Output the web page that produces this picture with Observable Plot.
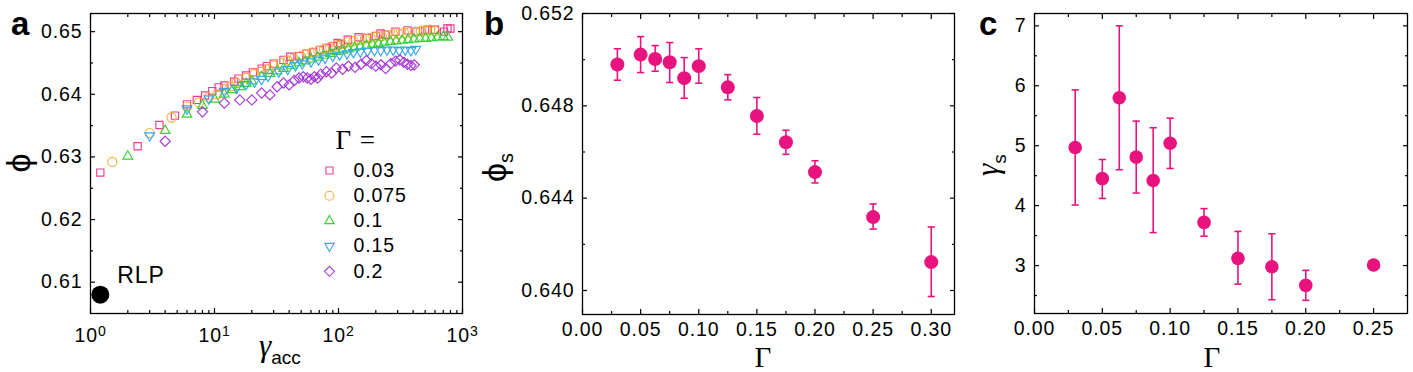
<!DOCTYPE html>
<html><head><meta charset="utf-8">
<script src="https://cdn.jsdelivr.net/npm/d3@7"></script>
<script src="https://cdn.jsdelivr.net/npm/@observablehq/plot@0.6"></script>
<style>
body{margin:0;background:#fff;}
#wrap{position:relative;width:1413px;height:372px;overflow:hidden;background:#fff;}
.panel{position:absolute;top:0;}
#overlay{position:absolute;left:0;top:0;pointer-events:none;}
</style>
</head><body>
<div id="wrap">
  <div id="pa" class="panel" style="left:0px"></div>
  <div id="pb" class="panel" style="left:470px"></div>
  <div id="pc" class="panel" style="left:960px"></div>
</div>
<script>
// ---------------- DATA ----------------
// Panel a: packing fraction phi vs accumulated strain gamma_acc, for each Gamma
const gammaLabels = ["0.03", "0.075", "0.1", "0.15", "0.2"];

const acc003 = [1.2, 2.4, 3.6, 4.8, 6, 7.2, 8.4, 9.6, 10.8, 12, 14.4, 15.6, 18, 20.4, 24, 26.4, 30, 36, 40.8, 48, 55.2, 62.4, 70.8, 80.4, 90, 98.4, 104.4, 118.8, 145.2, 170.4, 200.4, 218.4, 240, 288, 360, 420, 499.2, 522, 600, 710.4, 756, 799.2];
const phi003 = [0.6275, 0.6317, 0.6351, 0.6366, 0.6384, 0.6391, 0.6398, 0.6405, 0.6411, 0.6414, 0.6420, 0.6425, 0.6430, 0.6435, 0.6441, 0.6445, 0.6449, 0.6455, 0.6460, 0.6461, 0.6465, 0.6467, 0.6471, 0.6474, 0.6477, 0.6482, 0.6480, 0.6487, 0.6491, 0.6490, 0.6493, 0.6497, 0.6495, 0.6500, 0.6502, 0.6500, 0.6502, 0.6503, 0.6503, 0.6500, 0.6505, 0.6505];

const acc0075 = [1.5, 3, 4.5, 6, 7.5, 9, 10.5, 12, 13.5, 15, 18, 21, 24, 27, 30, 34.5, 39, 43.5, 49.5, 55.5, 61.5, 69, 76.5, 85.5, 96, 106.5, 118.5, 132, 147, 163.5, 181.5, 201, 223.5, 247.5, 274.5, 304.5, 337.5, 375, 415.5, 460.5, 510, 549, 600];
const phi0075 = [0.6292, 0.6338, 0.6363, 0.6380, 0.6387, 0.6395, 0.6400, 0.6408, 0.6413, 0.6418, 0.6426, 0.6432, 0.6436, 0.6440, 0.6446, 0.6450, 0.6454, 0.6457, 0.6461, 0.6464, 0.6467, 0.6469, 0.6472, 0.6475, 0.6478, 0.6480, 0.6483, 0.6485, 0.6487, 0.6489, 0.6490, 0.6492, 0.6493, 0.6494, 0.6496, 0.6497, 0.6498, 0.6499, 0.6500, 0.6501, 0.6502, 0.6503, 0.6501];

const acc01 = [2, 4, 6, 8, 10, 12, 14, 16, 18, 20, 24, 28, 32, 36, 42, 48, 54, 60, 68, 76, 86, 96, 108, 120, 134, 150, 168, 188, 210, 234, 262, 292, 326, 364, 406, 452, 504, 562, 626, 700, 760];
const phi01 = [0.6301, 0.6342, 0.6368, 0.6382, 0.6392, 0.6400, 0.6407, 0.6412, 0.6417, 0.6421, 0.6428, 0.6433, 0.6437, 0.6441, 0.6446, 0.6450, 0.6453, 0.6456, 0.6459, 0.6462, 0.6465, 0.6468, 0.6470, 0.6472, 0.6474, 0.6476, 0.6478, 0.6480, 0.6481, 0.6483, 0.6484, 0.6485, 0.6486, 0.6487, 0.6488, 0.6489, 0.6489, 0.6490, 0.6491, 0.6492, 0.6491];

const acc015 = [3, 6, 9, 12, 15, 18, 21, 24, 27, 33, 39, 45, 51, 60, 69, 78, 90, 102, 117, 132, 150, 171, 195, 219, 246, 276, 309, 345, 384, 420];
const phi015 = [0.6334, 0.6377, 0.6393, 0.6405, 0.6410, 0.6416, 0.6420, 0.6424, 0.6429, 0.6436, 0.6440, 0.6446, 0.6449, 0.6452, 0.6455, 0.6458, 0.6461, 0.6463, 0.6465, 0.6467, 0.6468, 0.6469, 0.6470, 0.6470, 0.6471, 0.6471, 0.6470, 0.6471, 0.6470, 0.6472];

const acc02 = [4, 8, 12, 16, 20, 24, 28, 32, 36, 40, 44, 48, 52, 56, 60, 64, 68, 72, 80, 88, 96, 108, 120, 136, 152, 168, 184, 200, 220, 240, 264, 288, 312, 336, 360, 384, 408];
const phi02 = [0.6325, 0.6372, 0.6386, 0.6391, 0.6391, 0.6402, 0.6399, 0.6412, 0.6418, 0.6415, 0.6422, 0.6426, 0.6428, 0.6426, 0.6424, 0.6428, 0.6426, 0.6432, 0.6436, 0.6434, 0.6442, 0.6440, 0.6445, 0.6443, 0.6448, 0.6454, 0.6449, 0.6445, 0.6447, 0.6441, 0.6449, 0.6453, 0.6455, 0.6451, 0.6448, 0.6446, 0.6447];

const rlpAcc = [1.2];
const rlpPhi = [0.608];

const aYTicks = [0.61, 0.62, 0.63, 0.64, 0.65];
const aYMinor = [0.615, 0.625, 0.635, 0.645];
const aXTicks = [1, 10, 100, 1000];
const aXMinor = [2, 3, 4, 5, 6, 7, 8, 9, 20, 30, 40, 50, 60, 70, 80, 90, 200, 300, 400, 500, 600, 700, 800, 900];

// Panel b: steady-state phi_s vs Gamma
const bGamma = [0.03, 0.05, 0.0625, 0.075, 0.0875, 0.1, 0.125, 0.15, 0.175, 0.2, 0.25, 0.3];
const bPhiS  = [0.64979, 0.65022, 0.65003, 0.64989, 0.64920, 0.64972, 0.64880, 0.64756, 0.64642, 0.64513, 0.64318, 0.64123];
const bLo    = [0.64911, 0.64944, 0.64950, 0.64901, 0.64833, 0.64898, 0.64826, 0.64677, 0.64590, 0.64466, 0.64266, 0.63974];
const bHi    = [0.65047, 0.65100, 0.65061, 0.65074, 0.65009, 0.65047, 0.64935, 0.64836, 0.64694, 0.64562, 0.64375, 0.64275];
const bYTicks = [0.640, 0.644, 0.648, 0.652];
const bYMinor = [0.642, 0.646, 0.650];
const bXTicks = [0, 0.05, 0.10, 0.15, 0.20, 0.25, 0.30];
const bXMinor = [0.025, 0.075, 0.125, 0.175, 0.225, 0.275];

// Panel c: gamma_s vs Gamma
const cGamma  = [0.03, 0.05, 0.0625, 0.075, 0.0875, 0.1, 0.125, 0.15, 0.175, 0.2, 0.25];
const cGammaS = [4.97, 4.45, 5.80, 4.81, 4.42, 5.04, 3.72, 3.12, 2.98, 2.67, 3.01];
const cLo     = [4.01, 4.12, 4.60, 4.21, 3.55, 4.62, 3.49, 2.69, 2.43, 2.42, null];
const cHi     = [5.93, 4.77, 7.00, 5.41, 5.30, 5.46, 3.95, 3.57, 3.53, 2.92, null];
const cYTicks = [3, 4, 5, 6, 7];
const cYMinor = [2.5, 3.5, 4.5, 5.5, 6.5];
const cXTicks = [0, 0.05, 0.10, 0.15, 0.20, 0.25];
const cXMinor = [0.025, 0.075, 0.125, 0.175, 0.225];

// ---------------- STYLE ----------------
const FONT = "'Liberation Sans', Arial, sans-serif";
const SERIF = "'Liberation Serif', 'Times New Roman', serif";
const MAGENTA = "#e8137f";
const seriesStyle = [
  {color: "#ee3d8f", sym: "square2"},
  {color: "#f2b035", sym: "circle"},
  {color: "#33d433", sym: "triangle2"},
  {color: "#35a8f0", sym: "triDown"},
  {color: "#a63ad6", sym: "diamond2"}
];
const triDown = {draw(ctx, size) {
  const s = Math.sqrt(size) * 0.6824, t = s / 2, u = s * Math.sqrt(3) / 2;
  ctx.moveTo(0, s); ctx.lineTo(u, -t); ctx.lineTo(-u, -t); ctx.closePath();
}};
const capSym = {draw(ctx, size) {
  const w = Math.sqrt(size / Math.PI);
  ctx.moveTo(-w, 0); ctx.lineTo(w, 0);
}};
function sym(name) { return name === "triDown" ? triDown : name; }

const baseStyle = {fontFamily: FONT, fontSize: "19.5px", letterSpacing: "0.9px", color: "#000", background: "transparent", overflow: "visible"};

function frameAxes({xMajor, xMinor, yMajor, yMinor, xFmt, yFmt, xPad = 8}) {
  const blank = () => "";
  return [
    Plot.axisX({anchor: "bottom", ticks: xMajor, tickSize: 0, tickPadding: xPad, tickFormat: xFmt, label: null}),
    Plot.axisY({anchor: "left", ticks: yMajor, tickSize: 0, tickPadding: 8, tickFormat: yFmt, label: null}),
    ...["bottom", "top"].flatMap(a => [
      Plot.axisX({anchor: a, ticks: xMajor, tickSize: -5, tickFormat: blank, label: null, strokeWidth: 1.2}),
      Plot.axisX({anchor: a, ticks: xMinor, tickSize: -3, tickFormat: blank, label: null, strokeWidth: 1.2})
    ]),
    ...["left", "right"].flatMap(a => [
      Plot.axisY({anchor: a, ticks: yMajor, tickSize: -5, tickFormat: blank, label: null, strokeWidth: 1.2}),
      Plot.axisY({anchor: a, ticks: yMinor, tickSize: -3, tickFormat: blank, label: null, strokeWidth: 1.2})
    ]),
    Plot.frame({stroke: "#000", strokeWidth: 1.3})
  ];
}

// ---------------- PANEL A ----------------
const aSeries = [
  [acc003, phi003], [acc0075, phi0075], [acc01, phi01], [acc015, phi015], [acc02, phi02]
].map(([xs, ys], i) => xs.map((x, j) => ({acc: x, phi: ys[j], g: gammaLabels[i]})));
const rlp = rlpAcc.map((x, i) => ({acc: x, phi: rlpPhi[i]}));

const legendMarks = gammaLabels.flatMap((lab, i) => [
  Plot.dot([lab], {frameAnchor: "top-left", dx: 239, dy: 157 + i * 25.2, r: 4.5, symbol: sym(seriesStyle[i].sym), stroke: seriesStyle[i].color, fill: "none", strokeWidth: 1.1}),
  Plot.text([lab], {frameAnchor: "top-left", dx: 263, dy: 157 + i * 25.2, text: d => d, textAnchor: "start", lineAnchor: "middle", fontSize: 19.5})
]);

const plotA = Plot.plot({
  width: 470, height: 372,
  marginLeft: 90, marginRight: 8, marginTop: 13, marginBottom: 59,
  x: {type: "log", domain: [1, 1000]},
  y: {domain: [0.6050, 0.6529]},
  style: baseStyle,
  marks: [
    ...frameAxes({xMajor: aXTicks, xMinor: aXMinor, yMajor: aYTicks, yMinor: aYMinor,
      xFmt: d => "10^" + Math.round(Math.log10(d)), yFmt: d3.format(".2f"), xPad: 15}),
    ...aSeries.map((s, i) => Plot.dot(s, {x: "acc", y: "phi", r: 4.6, symbol: sym(seriesStyle[i].sym), stroke: seriesStyle[i].color, fill: "none", strokeWidth: 1.15})),
    Plot.dot(rlp, {x: "acc", y: "phi", r: 9, fill: "#000"}),
    Plot.text(rlp, {x: "acc", y: "phi", text: () => "RLP", dx: 17, dy: -19, textAnchor: "start", lineAnchor: "middle", fontSize: 23}),
    Plot.text(["Γ ="], {frameAnchor: "top-left", dx: 245, dy: 127, text: d => d, textAnchor: "start", lineAnchor: "middle", fontFamily: SERIF, fontSize: 27, letterSpacing: "1px"}),
    ...legendMarks
  ]
});
// superscript exponents on the log axis labels
d3.select(plotA).selectAll("text").each(function() {
  const m = /^10\^(\d)$/.exec(this.textContent);
  if (m) {
    const t = d3.select(this);
    t.text("10");
    t.append("tspan").attr("dy", "-0.45em").attr("font-size", "14px").text(m[1]);
  }
});
document.getElementById("pa").append(plotA);

// ---------------- PANEL B ----------------
const bData = bGamma.map((g, i) => ({g, v: bPhiS[i], lo: bLo[i], hi: bHi[i]}));
const plotB = Plot.plot({
  width: 490, height: 372,
  marginLeft: 112, marginRight: 6, marginTop: 13, marginBottom: 58,
  x: {domain: [0, 0.32]},
  y: {domain: [0.63896, 0.652]},
  style: baseStyle,
  marks: [
    ...frameAxes({xMajor: bXTicks, xMinor: bXMinor, yMajor: bYTicks, yMinor: bYMinor,
      xFmt: d3.format(".2f"), yFmt: d3.format(".3f")}),
    Plot.ruleX(bData, {x: "g", y1: "lo", y2: "hi", stroke: MAGENTA, strokeWidth: 1.6}),
    Plot.dot(bData, {x: "g", y: "lo", r: 3.6, symbol: capSym, stroke: MAGENTA, fill: "none", strokeWidth: 1.6}),
    Plot.dot(bData, {x: "g", y: "hi", r: 3.6, symbol: capSym, stroke: MAGENTA, fill: "none", strokeWidth: 1.6}),
    Plot.dot(bData, {x: "g", y: "v", r: 7, fill: MAGENTA, stroke: "none"})
  ]
});
document.getElementById("pb").append(plotB);

// ---------------- PANEL C ----------------
const cData = cGamma.map((g, i) => ({g, v: cGammaS[i], lo: cLo[i], hi: cHi[i]}));
const cErr = cData.filter(d => d.lo != null);
const plotC = Plot.plot({
  width: 453, height: 372,
  marginLeft: 74, marginRight: 6, marginTop: 13, marginBottom: 59,
  x: {domain: [0, 0.275]},
  y: {domain: [2.2, 7.206]},
  style: baseStyle,
  marks: [
    ...frameAxes({xMajor: cXTicks, xMinor: cXMinor, yMajor: cYTicks, yMinor: cYMinor,
      xFmt: d3.format(".2f"), yFmt: d3.format("d")}),
    Plot.ruleX(cErr, {x: "g", y1: "lo", y2: "hi", stroke: MAGENTA, strokeWidth: 1.6}),
    Plot.dot(cErr, {x: "g", y: "lo", r: 3.6, symbol: capSym, stroke: MAGENTA, fill: "none", strokeWidth: 1.6}),
    Plot.dot(cErr, {x: "g", y: "hi", r: 3.6, symbol: capSym, stroke: MAGENTA, fill: "none", strokeWidth: 1.6}),
    Plot.dot(cData, {x: "g", y: "v", r: 6.8, fill: MAGENTA, stroke: "none"})
  ]
});
document.getElementById("pc").append(plotC);

// ---------------- TITLES / PANEL LETTERS ----------------
const ov = d3.select("#wrap").append("svg").attr("id", "overlay")
  .attr("width", 1413).attr("height", 372).style("font-family", FONT);

[["a", 11, 35], ["b", 484, 35], ["c", 979, 35]].forEach(([t, x, y]) =>
  ov.append("text").attr("x", x).attr("y", y).attr("font-size", 33).attr("font-weight", "bold").text(t));

// panel a y title: phi (rotated)
ov.append("text").attr("transform", "translate(30,163) rotate(-90)")
  .attr("text-anchor", "middle").attr("font-size", 34).text("ϕ");
// panel a x title: gamma_acc
const ta = ov.append("text").attr("x", 259).attr("y", 356);
ta.append("tspan").attr("font-family", SERIF).attr("font-style", "italic").attr("font-size", 31).text("γ");
ta.append("tspan").attr("dy", 8).attr("font-size", 19).text("acc");

// panel b x title / y title
ov.append("text").attr("x", 763).attr("y", 367).attr("text-anchor", "middle")
  .attr("font-family", SERIF).attr("font-size", 29).text("Γ");
const tb = ov.append("text").attr("transform", "translate(506,182) rotate(-90)");
tb.append("tspan").attr("font-size", 34).text("ϕ");
tb.append("tspan").attr("dy", 7).attr("font-size", 20).text("s");

// panel c x title / y title
ov.append("text").attr("x", 1212).attr("y", 367).attr("text-anchor", "middle")
  .attr("font-family", SERIF).attr("font-size", 29).text("Γ");
const tc = ov.append("text").attr("transform", "translate(998,176) rotate(-90)");
tc.append("tspan").attr("font-family", SERIF).attr("font-style", "italic").attr("font-size", 31).text("γ");
tc.append("tspan").attr("dy", 8).attr("font-size", 19).text("s");
</script>
</body></html>
